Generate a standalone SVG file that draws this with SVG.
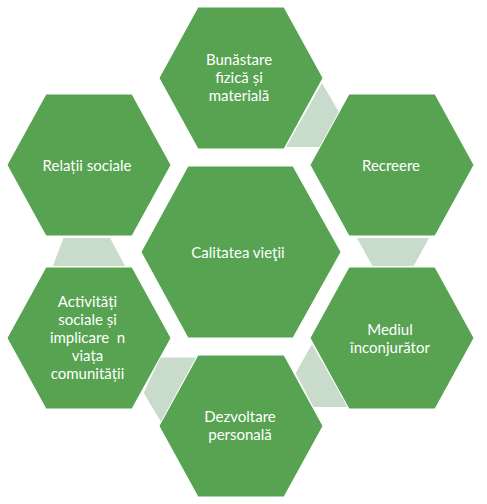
<svg xmlns="http://www.w3.org/2000/svg" xmlns:xlink="http://www.w3.org/1999/xlink" width="487" height="504" viewBox="0 0 487 504">
  <style>
    .hex { fill: #57A352; stroke: #ffffff; stroke-width: 1; }
    .link { fill: #C9DCCB; stroke: #ffffff; stroke-width: 1.2; }
    .lbl { font-family: Lato, "Open Sans", "Liberation Sans", sans-serif; font-size: 15px; fill: #ffffff; text-anchor: middle; white-space: pre; }
  </style>
  <defs>
    <polygon id="ohex" points="-82,0 -43,-71 43,-71 82,0 43,71 -43,71"/>
  </defs>
  <rect width="487" height="504" fill="#ffffff"/>
  <g id="connectors">
    <polygon class="link" points="322,82 339.5,112 321,147.5 285,147.5"/>
    <polygon class="link" points="356,237.5 430,237.5 414,266.5 372,266.5"/>
    <polygon class="link" points="312,343 295,373 313,407.5 349,407.5"/>
    <polygon class="link" points="160,357 197,357 161,423 143,393"/>
    <polygon class="link" points="63,237.5 110.5,237.5 126,266.5 52,266.5"/>
  </g>
  <g id="center">
    <polygon class="hex" points="141,252 188,166 293,166 341,252 293,338 188,338"/>
    <text class="lbl" x="238" y="258">Calitatea vieţii</text>
  </g>
  <g id="bunastare">
    <use xlink:href="#ohex" class="hex" transform="translate(241,78)"/>
    <text class="lbl" x="239" y="65">Bunăstare</text>
    <text class="lbl" x="239" y="83">fizică și</text>
    <text class="lbl" x="239" y="101">materială</text>
  </g>
  <g id="recreere">
    <use xlink:href="#ohex" class="hex" transform="translate(392,165)"/>
    <text class="lbl" x="391" y="171">Recreere</text>
  </g>
  <g id="mediul">
    <use xlink:href="#ohex" class="hex" transform="translate(392,338)"/>
    <text class="lbl" x="390" y="335">Mediul</text>
    <text class="lbl" x="390" y="353">înconjurător</text>
  </g>
  <g id="dezvoltare">
    <use xlink:href="#ohex" class="hex" transform="translate(241,426)"/>
    <text class="lbl" x="240" y="422">Dezvoltare</text>
    <text class="lbl" x="240" y="440">personală</text>
  </g>
  <g id="activitati">
    <use xlink:href="#ohex" class="hex" transform="translate(89,338)"/>
    <text class="lbl" x="87.5" y="307">Activități</text>
    <text class="lbl" x="87.5" y="325">sociale și</text>
    <text class="lbl" x="87.5" y="343">implicare  n</text>
    <text class="lbl" x="87.5" y="361">viața</text>
    <text class="lbl" x="87.5" y="379">comunității</text>
  </g>
  <g id="relatii">
    <use xlink:href="#ohex" class="hex" transform="translate(89,165)"/>
    <text class="lbl" x="87" y="171">Relații sociale</text>
  </g>
</svg>
